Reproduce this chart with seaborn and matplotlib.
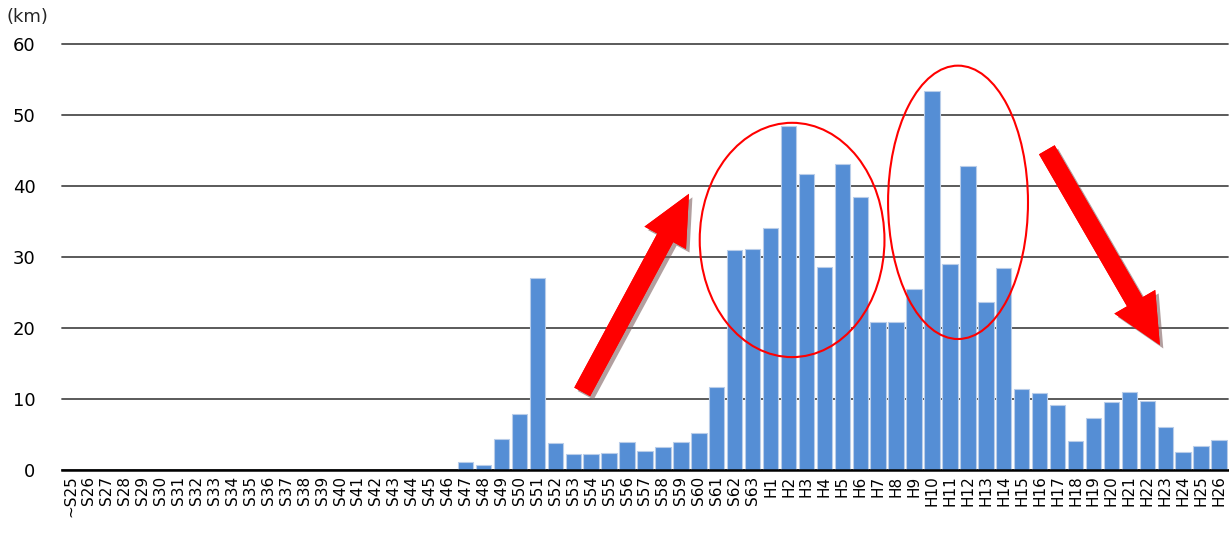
import matplotlib
matplotlib.use("Agg")
import matplotlib.pyplot as plt
import matplotlib.patheffects as pe
from matplotlib.patches import Ellipse
import seaborn as sns
import pandas as pd

# ---- data ----
showa_years = ["~S25"] + [f"S{i}" for i in range(26, 64)]
heisei_years = [f"H{i}" for i in range(1, 27)]
categories = showa_years + heisei_years

showa_values = [0] * 22 + [1.1, 0.65, 4.3, 7.9, 27.0, 3.8, 2.3, 2.3, 2.4, 3.9,
                           2.7, 3.2, 3.9, 5.2, 11.7, 31.0, 31.1]
heisei_values = [34.1, 48.5, 41.7, 28.6, 43.1, 38.4, 20.9, 20.9, 25.5, 53.4,
                 29.0, 42.8, 23.6, 28.4, 11.4, 10.8, 9.1, 4.1, 7.3, 9.6,
                 11.0, 9.7, 6.0, 2.5, 3.4, 4.2]
values = showa_values + heisei_values

y_ticks = [0, 10, 20, 30, 40, 50, 60]
unit_label = "(km)"

df = pd.DataFrame({"year": categories, "length": values})

# ---- figure ----
sns.set_theme(style="white")
plt.rcParams["font.family"] = ["DejaVu Sans"]

fig = plt.figure(figsize=(12.29, 5.38), dpi=100)
ax = fig.add_axes([62 / 1229, 68 / 538, 1166 / 1229, 426 / 538])

sns.barplot(data=df, x="year", y="length", color="#558ED5", saturation=1,
            width=0.86, edgecolor="#B9CDE9", linewidth=0.8, ax=ax, zorder=3)

ax.set_xlim(-0.5, len(categories) - 0.5)
ax.set_ylim(0, 60)
ax.set_yticks(y_ticks)
ax.set_yticklabels([str(t) for t in y_ticks], fontsize=13)
ax.yaxis.grid(True, color="#4D4D4D", linewidth=1.3, zorder=0)
for gl in ax.get_ygridlines():
    gl.set_clip_on(False)
ax.set_axisbelow(True)
for s in ["top", "right", "left"]:
    ax.spines[s].set_visible(False)
ax.spines["bottom"].set_color("black")
ax.spines["bottom"].set_linewidth(1.8)
ax.spines["bottom"].set_zorder(5)
ax.tick_params(axis="y", length=0, pad=19, labelcolor="black")
ax.tick_params(axis="x", length=0, pad=4, labelcolor="black")
ax.set_xticks(range(len(categories)))
ax.set_xticklabels(categories, rotation=90, fontsize=11, va="top", ha="center")
ax.set_xlabel("")
ax.set_ylabel("")

fig.text(7 / 1229, 1 - 22 / 538, unit_label, fontsize=13, ha="left", va="baseline")

# ---- annotations ----
for (cx, cy, w, h) in [(40.2, 32.4, 10.3, 33.0), (49.45, 37.7, 7.8, 38.5)]:
    ax.add_patch(Ellipse((cx, cy), w, h, fill=False, edgecolor="#FF0000",
                         linewidth=1.5, zorder=6))

shadow = [pe.withSimplePatchShadow(offset=(2.5, -2.5), shadow_rgbFace="#7F6060", alpha=0.6),
          pe.Normal()]
for (tail, tip) in [((28.5, 11.0), (34.45, 38.9)), ((54.4, 45.1), (60.7, 17.6))]:
    ax.annotate("", xy=tip, xytext=tail, zorder=7,
                arrowprops=dict(arrowstyle="simple,head_length=36,head_width=34,tail_width=13",
                                mutation_scale=1, fc="#FF0000", ec="none",
                                shrinkA=0, shrinkB=0, path_effects=shadow))

fig.savefig("out.png", dpi=100)
